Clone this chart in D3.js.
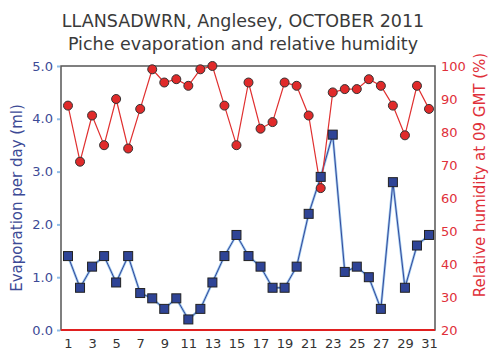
<!DOCTYPE html>
<html><head><meta charset="utf-8">
<script src="https://cdn.jsdelivr.net/npm/d3@7"></script>
<style>body{margin:0;background:#fff}svg{display:block}</style>
</head><body>
<script>
const days = d3.range(1, 32);
const evaporation = [1.4,0.8,1.2,1.4,0.9,1.4,0.7,0.6,0.4,0.6,0.2,0.4,0.9,1.4,1.8,1.4,1.2,0.8,0.8,1.2,2.2,2.9,3.7,1.1,1.2,1.0,0.4,2.8,0.8,1.6,1.8];
const humidity = [88,71,85,76,90,75,87,99,95,96,94,99,100,88,76,95,81,83,95,94,85,63,92,93,93,96,94,88,79,94,87];
const leftTicks = [0,1,2,3,4,5];
const rightTicks = [20,30,40,50,60,70,80,90,100];
const xTickDays = [1,3,5,7,9,11,13,15,17,19,21,23,25,27,29,31];
const titleLines = ["LLANSADWRN, Anglesey, OCTOBER 2011", "Piche evaporation and relative humidity"];

const W = 504, H = 360;
const L = 61, R = 435, T = 66, B = 330;
const svg = d3.select("body").append("svg").attr("width", W).attr("height", H);
const font = "DejaVu Sans, Verdana, sans-serif";

const x = d3.scaleLinear().domain([1, 31]).range([68, 429]);
const yL = d3.scaleLinear().domain([0, 5]).range([B, T]);
const yR = d3.scaleLinear().domain([20, 100]).range([B, T]);

// title
svg.selectAll("text.title").data(titleLines).enter().append("text")
  .attr("x", 243).attr("y", (d, i) => 27 + i * 23)
  .attr("text-anchor", "middle").attr("font-family", font).attr("font-size", 17.5)
  .attr("fill", "#3a3a3a").text(d => d);

// frame
svg.append("rect").attr("x", L).attr("y", T).attr("width", R - L).attr("height", B - T)
  .attr("fill", "none").attr("stroke", "#555").attr("stroke-width", 1.5);
svg.append("line").attr("x1", L).attr("x2", R).attr("y1", B).attr("y2", B)
  .attr("stroke", "#e02020").attr("stroke-width", 2);

// left axis
const axL = d3.axisLeft(yL).tickValues(leftTicks).tickFormat(d3.format(".1f")).tickSize(3).tickPadding(4);
const gL = svg.append("g").attr("transform", `translate(${L - 1},0)`).call(axL);
gL.select(".domain").remove();
gL.selectAll("line").attr("stroke", "#8fbde8").attr("stroke-width", 2);
gL.selectAll("text").attr("font-family", font).attr("font-size", 13).attr("fill", "#3c4a96");

// right axis
const axR = d3.axisRight(yR).tickValues(rightTicks).tickSize(0).tickPadding(6);
const gR = svg.append("g").attr("transform", `translate(${R},0)`).call(axR);
gR.select(".domain").remove();
gR.selectAll("text").attr("font-family", font).attr("font-size", 13).attr("fill", "#e0303a");

// bottom axis
const axB = d3.axisBottom(x).tickValues(xTickDays).tickSize(0).tickPadding(9);
const gB = svg.append("g").attr("transform", `translate(0,${B})`).call(axB);
gB.select(".domain").remove();
gB.selectAll("text").attr("font-family", font).attr("font-size", 13).attr("fill", "#333");

// axis titles
svg.append("text").attr("transform", `translate(22,${(T + B) / 2}) rotate(-90)`)
  .attr("text-anchor", "middle").attr("font-family", font).attr("font-size", 15)
  .attr("fill", "#3c4a96").text("Evaporation per day (ml)");
svg.append("text").attr("transform", `translate(485,175) rotate(-90)`)
  .attr("text-anchor", "middle").attr("font-family", font).attr("font-size", 15)
  .attr("fill", "#e0303a").text("Relative humidity at 09 GMT (%)");

// evaporation series
const lineE = d3.line().x((d, i) => x(days[i])).y(d => yL(d));
svg.append("path").datum(evaporation).attr("d", lineE).attr("fill", "none")
  .attr("stroke", "#9cc8ee").attr("stroke-width", 2.5);
svg.append("path").datum(evaporation).attr("d", lineE).attr("fill", "none")
  .attr("stroke", "#34489a").attr("stroke-width", 1);

// humidity series
const lineH = d3.line().x((d, i) => x(days[i])).y(d => yR(d));
svg.append("path").datum(humidity).attr("d", lineH).attr("fill", "none")
  .attr("stroke", "#e03030").attr("stroke-width", 1.2);

svg.selectAll("rect.ev").data(evaporation).enter().append("rect")
  .attr("x", (d, i) => x(days[i]) - 4.5).attr("y", d => yL(d) - 4.5)
  .attr("width", 9).attr("height", 9)
  .attr("fill", "#2f4496").attr("stroke", "#222").attr("stroke-width", 1);

svg.selectAll("circle.hu").data(humidity).enter().append("circle")
  .attr("cx", (d, i) => x(days[i])).attr("cy", d => yR(d)).attr("r", 4.5)
  .attr("fill", "#e02a2a").attr("stroke", "#333").attr("stroke-width", 1);
</script>
</body></html>
